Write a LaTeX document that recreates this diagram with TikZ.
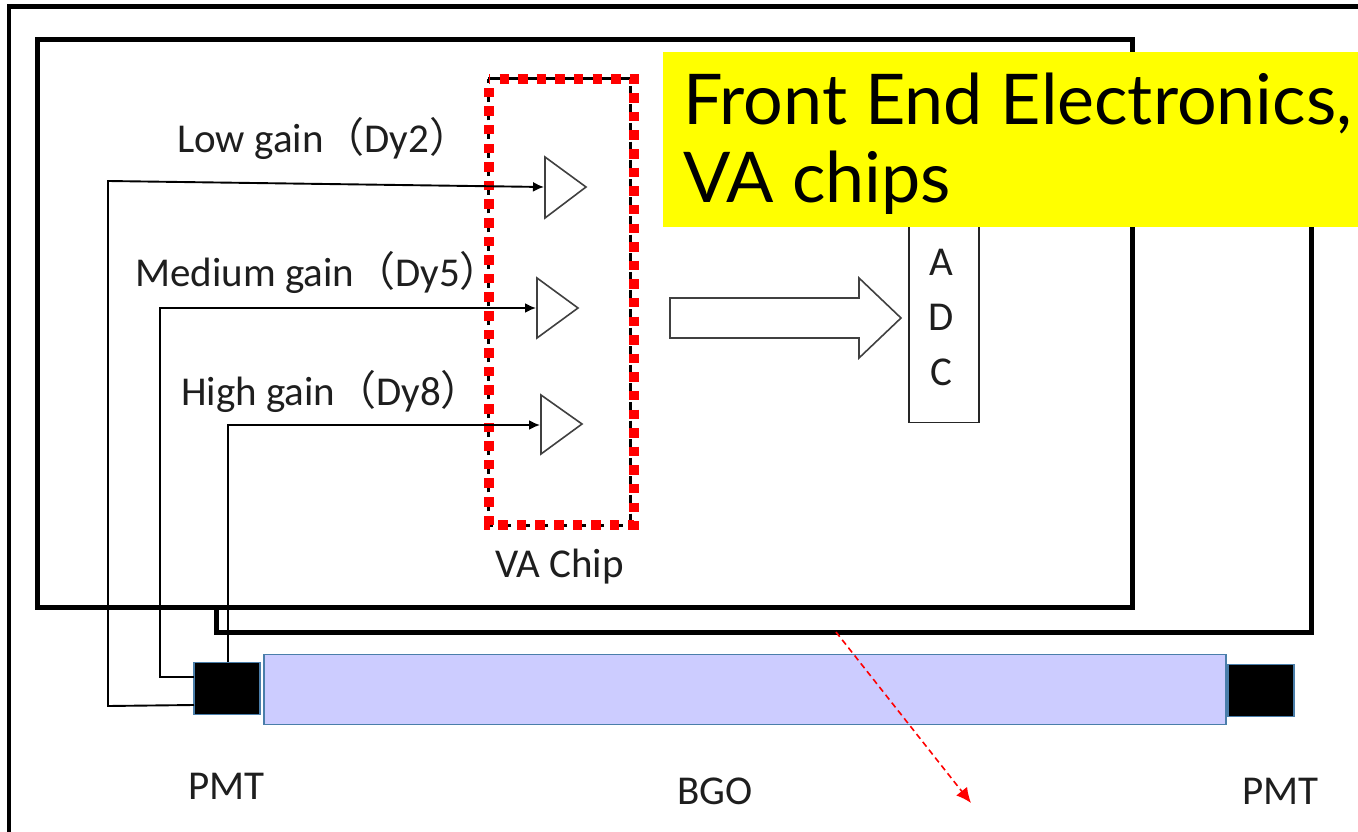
\documentclass[tikz,border=0pt]{standalone}
\usepackage{fontspec}
\setmainfont{Carlito}
\newfontfamily\cjkparen{Noto Sans CJK SC}
\newfontfamily\handfont{Lato}
\usetikzlibrary{arrows.meta}
\definecolor{noteyellow}{RGB}{255,255,0}
\definecolor{purered}{RGB}{255,0,0}
\definecolor{edgeblue}{RGB}{74,126,170}
\definecolor{bgofill}{RGB}{204,204,255}
\definecolor{labtext}{RGB}{30,30,30}
\newcommand{\lp}{{\cjkparen （}}
\newcommand{\rp}{{\cjkparen ）}}
\tikzset{
  x=1pt,y=-1pt,
  framebox/.style={draw=black,line width=5pt,fill=white,miter limit=10},
  wire/.style={draw=black,line width=1.9pt},
  sig/.style={wire,-{Latex[length=11pt,width=10pt]}},
  amp/.style={draw=black!75,line width=1.6pt,fill=white,line join=miter},
  lab/.style={anchor=base west,inner sep=0pt,font=\fontsize{41}{43}\selectfont,text=labtext},
  ctr/.style={anchor=base,inner sep=0pt,font=\fontsize{41}{43}\selectfont,text=labtext},
  pmtbox/.style={draw=edgeblue,line width=1.5pt,fill=black},
  bgobox/.style={draw=edgeblue,line width=1.8pt,fill=bgofill},
  notetext/.style={anchor=base west,inner sep=0pt,font=\handfont\fontsize{70}{72}\selectfont,text=black},
}
\begin{document}
\begin{tikzpicture}
\useasboundingbox (0,0) rectangle (1358,832);
\begin{scope}
\clip (0,0) rectangle (1358,832);
% outer frame
\draw[draw=black,line width=4.5pt] (9,860) -- (9,6.5) -- (1380,6.5);
% second board
\draw[framebox] (216,150) rectangle (1311,632);
% first board
\draw[framebox] (37,40) rectangle (1132,607);
% ADC
\node[draw=black!85,line width=1.6pt,fill=white,minimum width=70pt,minimum height=240pt,inner sep=0pt] (adc) at (944,302.5) {};
\node[ctr] (adcA) at (941,275) {A};
\node[ctr] (adcD) at (941,330) {D};
\node[ctr] (adcC) at (941,385) {C};
% VA chip outline
\draw[draw=black,line width=3pt,dash pattern=on 13pt off 5.6pt] (488,79) -- (630,79) -- (630,525) -- (488,525) -- cycle;
\draw[draw=purered,line width=9.5pt,dash pattern=on 9.5pt off 9.1pt,dash phase=8.1pt] (489,79) -- (634,79) -- (634,525) -- (489,525) -- cycle;
% amplifiers
\coordinate (a1) at (544,187);
\coordinate (a2) at (536,308);
\coordinate (a3) at (540,425);
\draw[amp] (545,157) -- (586,187) -- (545,218) -- cycle;
\draw[amp] (537,278) -- (578,308) -- (537,338) -- cycle;
\draw[amp] (541,395) -- (582,424) -- (541,454) -- cycle;
% big arrow
\draw[amp] (670,298) -- (859,298) -- (859,278) -- (901,318) -- (859,358) -- (859,338) -- (670,338) -- cycle;
% BGO and PMTs
\node[bgobox,minimum width=962pt,minimum height=70pt,inner sep=0pt] (bgo) at (745,689.5) {};
\node[pmtbox,minimum width=66pt,minimum height=52pt,inner sep=0pt] (pmtl) at (227,688.5) {};
\node[pmtbox,minimum width=66pt,minimum height=52pt,inner sep=0pt] (pmtr) at (1261,690.5) {};
% wires
\coordinate (w1a) at (194,705);
\coordinate (w1b) at (108,706);
\coordinate (w1c) at (108,181);
\coordinate (w2a) at (194,677);
\coordinate (w2b) at (160,677);
\coordinate (w2c) at (160,308);
\coordinate (w3a) at (228,662);
\coordinate (w3b) at (228,425);
\draw[sig] (w1a) -- (w1b) -- (w1c) -- (a1);
\draw[sig] (w2a) -- (w2b) -- (w2c) -- (a2);
\draw[sig] (w3a) -- (w3b) -- (a3);
% red arrow
\coordinate (ra) at (836,632);
\coordinate (rb) at (971,803);
\draw[draw=purered,line width=1.6pt,dash pattern=on 6pt off 4pt,-{Latex[length=15pt,width=14pt]}] (ra) -- (rb);
% labels
\node[lab] (l1) at (177,153) {Low gain\lp Dy2\rp};
\node[lab] (l2) at (135,286) {Medium gain\lp Dy5\rp};
\node[lab] (l3) at (181,405) {High gain\lp Dy8\rp};
\node[lab] (va) at (495,577) {VA Chip};
\node[lab] (p1) at (188,799) {PMT};
\node[lab] (b1) at (677,804) {BGO};
\node[lab] (p2) at (1242,804) {PMT};
% yellow note
\fill[noteyellow] (663,52) rectangle (1358,227);
\node[notetext] (n1) at (683,125) {Front End Electronics,};
\node[notetext] (n2) at (683,203) {VA chips};
\end{scope}
\end{tikzpicture}
\end{document}
